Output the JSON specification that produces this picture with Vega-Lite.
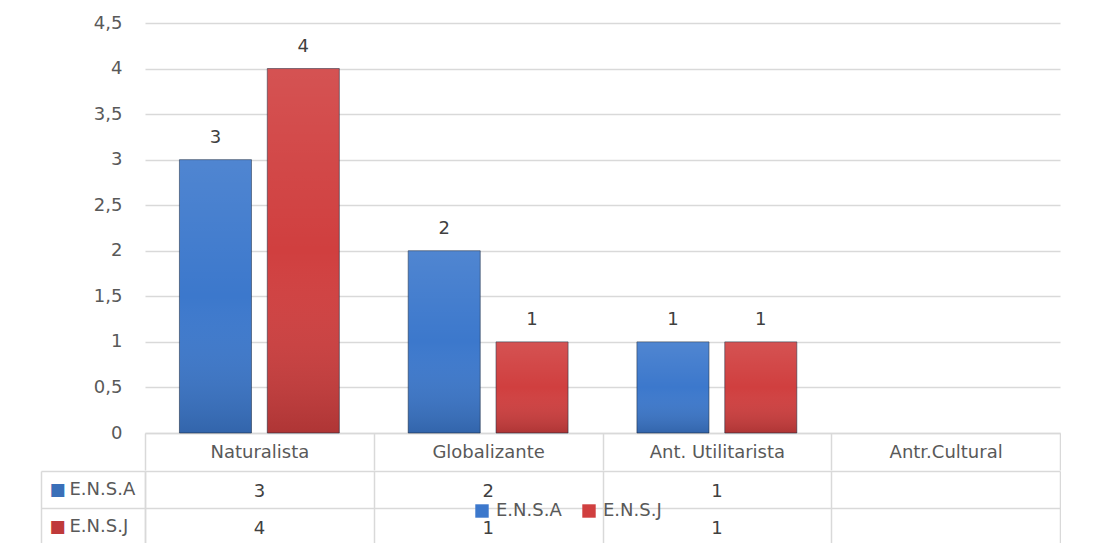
{
  "$schema": "https://vega.github.io/schema/vega-lite/v6.json",
  "background": "white",
  "padding": {"left": 40, "top": 14, "right": 0, "bottom": 0},
  "spacing": -10,
  "config": {
    "font": "DejaVu Sans",
    "view": {"stroke": null},
    "axis": {
      "labelFont": "DejaVu Sans",
      "labelFontSize": 18,
      "labelColor": "#595959",
      "gridColor": "#d9d9d9",
      "gridWidth": 1.5,
      "domainColor": "#d9d9d9",
      "domainWidth": 1.5,
      "tickColor": "#d9d9d9",
      "tickWidth": 1.5,
      "title": null
    }
  },
  "datasets": {
    "tabla": [
      {"categoria": "Naturalista", "serie": "E.N.S.A", "valor": 3},
      {"categoria": "Naturalista", "serie": "E.N.S.J", "valor": 4},
      {"categoria": "Globalizante", "serie": "E.N.S.A", "valor": 2},
      {"categoria": "Globalizante", "serie": "E.N.S.J", "valor": 1},
      {"categoria": "Ant. Utilitarista", "serie": "E.N.S.A", "valor": 1},
      {"categoria": "Ant. Utilitarista", "serie": "E.N.S.J", "valor": 1}
    ]
  },
  "data": {"name": "tabla"},
  "vconcat": [
    {
      "width": 915,
      "height": 410,
      "encoding": {
        "x": {
          "field": "categoria",
          "type": "nominal",
          "scale": {
            "domain": ["Naturalista", "Globalizante", "Ant. Utilitarista", "Antr.Cultural"],
            "paddingInner": 0,
            "paddingOuter": 0
          },
          "axis": {
            "orient": "bottom",
            "domain": true,
            "ticks": true,
            "tickBand": "extent",
            "tickSize": 37,
            "labelAngle": 0,
            "labelPadding": -18,
            "labelBaseline": "middle",
            "minExtent": 37,
            "maxExtent": 37,
            "grid": false
          }
        },
        "xOffset": {
          "field": "serie",
          "type": "nominal",
          "scale": {"paddingInner": 0.18, "paddingOuter": 0.392}
        },
        "y": {
          "field": "valor",
          "type": "quantitative",
          "scale": {"domain": [0, 4.5], "nice": false},
          "axis": {
            "values": [0, 0.5, 1, 1.5, 2, 2.5, 3, 3.5, 4, 4.5],
            "labelExpr": "replace(toString(datum.value), '.', ',')",
            "domain": false,
            "ticks": false,
            "labelPadding": 23,
            "grid": true
          }
        }
      },
      "layer": [
        {
          "mark": {"type": "bar", "strokeWidth": 1, "strokeOpacity": 0.55, "stroke": "#1c2a40"},
          "encoding": {
            "color": {
              "field": "serie",
              "type": "nominal",
              "scale": {"domain": ["E.N.S.A", "E.N.S.J"], "range": ["#3c78cc", "#d03f3f"]},
              "legend": {
                "orient": "none",
                "legendX": 328,
                "legendY": 479,
                "direction": "horizontal",
                "title": null,
                "symbolType": "square",
                "symbolSize": 180,
                "symbolStrokeWidth": 0,
                "symbolOpacity": 1,
                "labelFont": "DejaVu Sans",
                "labelFontSize": 18,
                "labelColor": "#595959",
                "labelOffset": 5,
                "columnPadding": 18,
                "padding": 0
              }
            }
          }
        },
        {
          "mark": {
            "type": "bar",
            "fill": {
              "gradient": "linear",
              "x1": 0, "y1": 0, "x2": 0, "y2": 1,
              "stops": [
                {"offset": 0, "color": "rgba(255,255,255,0.1)"},
                {"offset": 0.5, "color": "rgba(255,255,255,0)"},
                {"offset": 1, "color": "rgba(0,0,0,0.16)"}
              ]
            }
          },
          "encoding": {}
        },
        {
          "mark": {"type": "text", "baseline": "bottom", "dy": -13, "fontSize": 18, "color": "#404040"},
          "encoding": {"text": {"field": "valor", "type": "quantitative"}}
        }
      ]
    },
    {
      "width": 915,
      "height": 74,
      "encoding": {
        "x": {
          "field": "categoria",
          "type": "nominal",
          "scale": {
            "domain": ["Naturalista", "Globalizante", "Ant. Utilitarista", "Antr.Cultural"],
            "paddingInner": 0,
            "paddingOuter": 0
          },
          "axis": {
            "domain": false,
            "ticks": false,
            "labels": false,
            "grid": true,
            "tickBand": "extent"
          }
        }
      },
      "layer": [
        {
          "mark": {"type": "text", "fontSize": 18, "color": "#404040", "baseline": "middle", "dy": 2},
          "encoding": {
            "y": {
              "field": "serie",
              "type": "nominal",
              "scale": {"domain": ["E.N.S.A", "E.N.S.J"], "paddingInner": 0, "paddingOuter": 0},
              "axis": {
                "orient": "left",
                "domain": true,
                "ticks": true,
                "tickBand": "extent",
                "tickSize": 104,
                "labelAlign": "left",
                "labelPadding": -28,
                "labelBaseline": "middle",
                "grid": true
              }
            },
            "text": {"field": "valor", "type": "quantitative"}
          }
        },
        {
          "mark": {"type": "text", "text": ""},
          "encoding": {
            "y": {
              "field": "serie",
              "type": "nominal",
              "axis": {
                "orient": "left",
                "offset": 104,
                "domain": true,
                "ticks": false,
                "tickSize": 0,
                "grid": false,
                "labelAlign": "left",
                "labelPadding": -8,
                "labelBaseline": "middle",
                "labelExpr": "'■'",
                "labelFontSize": 17,
                "labelColor": {
                  "condition": {"test": "datum.value === 'E.N.S.A'", "value": "#3a6fb8"},
                  "value": "#bf3a3a"
                }
              }
            }
          }
        }
      ],
      "resolve": {"axis": {"y": "independent"}}
    }
  ]
}
